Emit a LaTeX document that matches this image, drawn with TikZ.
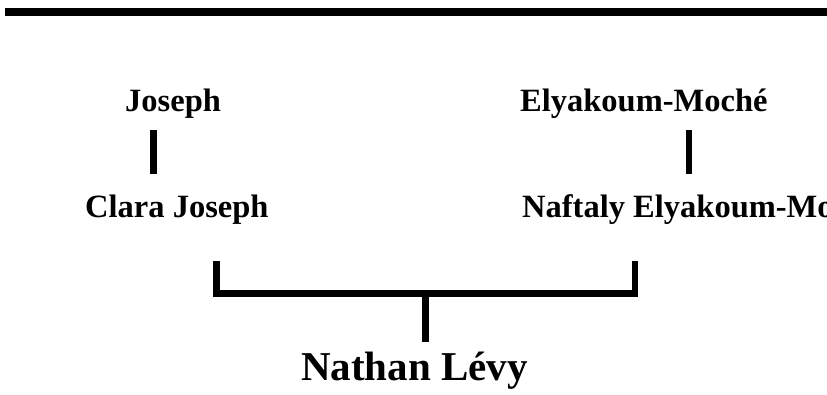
\documentclass[tikz,border=0pt]{standalone}
\usepackage{fontspec}
\setmainfont{Liberation Serif}
\tikzset{
  person/.style={anchor=base west, inner sep=0pt, font=\bfseries\fontsize{32.5}{39}\selectfont},
  link/.style={line width=6.5pt, line join=miter}
}
\begin{document}
\begin{tikzpicture}[x=1pt,y=-1pt]
\useasboundingbox (0,0) rectangle (827,395);
\clip (0,0) rectangle (827,395);
\fill (5,8) rectangle (827,16);
\node[person] (joseph) at (125,112) {Joseph};
\node[person] (elyakoum) at (520,112) {Elyakoum-Moch\'e};
\node[person] (clara) at (85,218) {Clara Joseph};
\node[person] (naftaly) at (522,218) {Naftaly Elyakoum-Moch\'e};
\node[person, font=\bfseries\fontsize{41}{49}\selectfont] (nathan) at (301,380) {Nathan L\'evy};
\coordinate (j1) at (153.5,130);
\coordinate (j2) at (153.5,174);
\coordinate (e1) at (689,130);
\coordinate (e2) at (689,174);
\coordinate (c1) at (216.5,261);
\coordinate (n1) at (635,261);
\coordinate (mid) at (425.5,293.5);
\coordinate (m2) at (425.5,342);
\draw[link] (j1) -- (j2);
\draw[link] (e1) -- (e2);
\draw[link] (c1) |- (mid) -| (n1);
\draw[link] (mid) -- (m2);
\end{tikzpicture}
\end{document}
